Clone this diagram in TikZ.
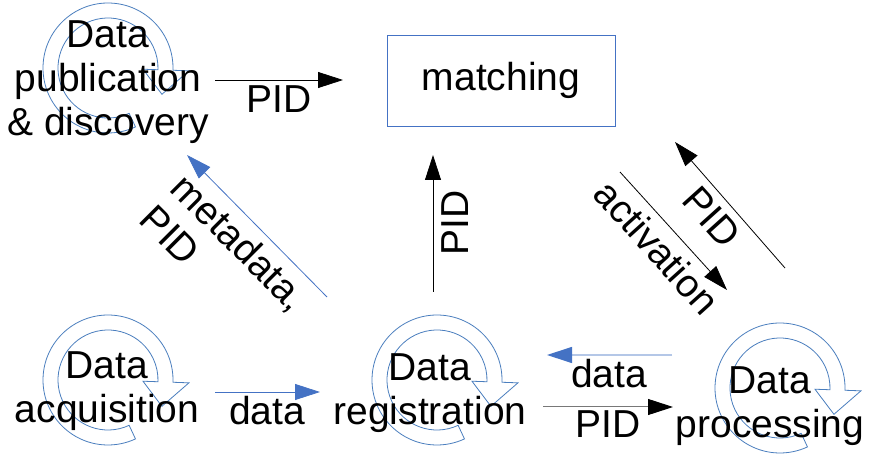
\documentclass[tikz,border=0pt]{standalone}
\usepackage{fontspec}
\setmainfont{Liberation Sans}
\usetikzlibrary{arrows.meta}
\definecolor{ringblue}{RGB}{74,126,190}
\definecolor{lineblue}{RGB}{68,114,196}
\definecolor{paleblue}{RGB}{180,199,231}
\definecolor{graylin}{RGB}{120,120,120}
\tikzset{
  x=1pt,y=1pt,
  lbl/.style={font=\fontsize{39}{44}\selectfont, inner sep=0pt, text=black},
  ringarrow/.pic={
    \draw[ringblue, line width=0.8pt, line join=miter]
      (-2:65) arc[start angle=-2, end angle=295, radius=65]
      -- (295:50) arc[start angle=295, end angle=-2, radius=50]
      -- (-2:35) -- (-26:60) -- (-2:81) -- cycle;
  },
  tipk/.style={-{Triangle[length=25pt,width=16pt]}},
  blackarrow/.style={tipk, draw=black, line width=0.8pt},
  bluearrow/.style={tipk, draw=lineblue, line width=0.8pt, color=lineblue},
}
\begin{document}
\begin{tikzpicture}
\useasboundingbox (0,0) rectangle (870,455);
\fill[white] (0,0) rectangle (870,455);

% rings
\pic at (108,387) {ringarrow};
\pic at (108,75) {ringarrow};
\pic at (437,75) {ringarrow};
\pic at (780,67) {ringarrow};

% matching box
\node[lbl, draw=lineblue, line width=0.8pt, minimum width=228pt, minimum height=91pt] (match) at (501,374.5) {matching};

% process nodes
\node[lbl, align=center] (pub) at (108,373) {Data\\publication\\\& discovery};
\node[lbl, align=center] (acq) at (107,63.5) {Data\\acquisition};
\node[lbl, align=center] (reg) at (430,61.5) {Data\\registration};
\node[lbl, align=center] (proc) at (770,48.5) {Data\\processing};

% arrow endpoints
\coordinate (a1s) at (215,375); \coordinate (a1e) at (343,375);
\coordinate (a2s) at (327,158); \coordinate (a2e) at (187,300);
\coordinate (a3s) at (433,163); \coordinate (a3e) at (433,300);
\coordinate (a4s) at (620,283); \coordinate (a4e) at (727,165);
\coordinate (a5s) at (785,187); \coordinate (a5e) at (675,313);
\coordinate (a6s) at (215,63);  \coordinate (a6e) at (320,63);
\coordinate (a7s) at (672,100); \coordinate (a7e) at (547,100);
\coordinate (a8s) at (543,48);  \coordinate (a8e) at (673,48);

\draw[blackarrow] (a1s) -- (a1e);
\draw[bluearrow] (a2s) -- (a2e);
\draw[blackarrow] (a3s) -- (a3e);
\draw[blackarrow] (a4s) -- (a4e);
\draw[blackarrow] (a5s) -- (a5e);
\draw[bluearrow] (a6s) -- (a6e);
\draw[tipk, draw=paleblue, line width=1.2pt, -{Triangle[length=25pt,width=16pt,fill=lineblue,color=lineblue]}] (a7s) -- (a7e);
\draw[tipk, draw=graylin, line width=1pt, -{Triangle[length=25pt,width=16pt,fill=black,color=black]}] (a8s) -- (a8e);

% labels
\node[lbl, anchor=base] (l1) at (279,342) {PID};
\node[lbl, align=left, rotate=-45] (l2) at (224.5,197.5) {metadata,\\PID};
\node[lbl, rotate=90] (l3) at (455,232) {PID};
\node[lbl, rotate=-48] (l4) at (657,208) {activation};
\node[lbl, rotate=-48] (l5) at (712,238) {PID};
\node[lbl, anchor=base] (l6) at (267,30) {data};
\node[lbl, anchor=base] (l7) at (609,67) {data};
\node[lbl, anchor=base] (l8) at (608,17) {PID};
\end{tikzpicture}
\end{document}
